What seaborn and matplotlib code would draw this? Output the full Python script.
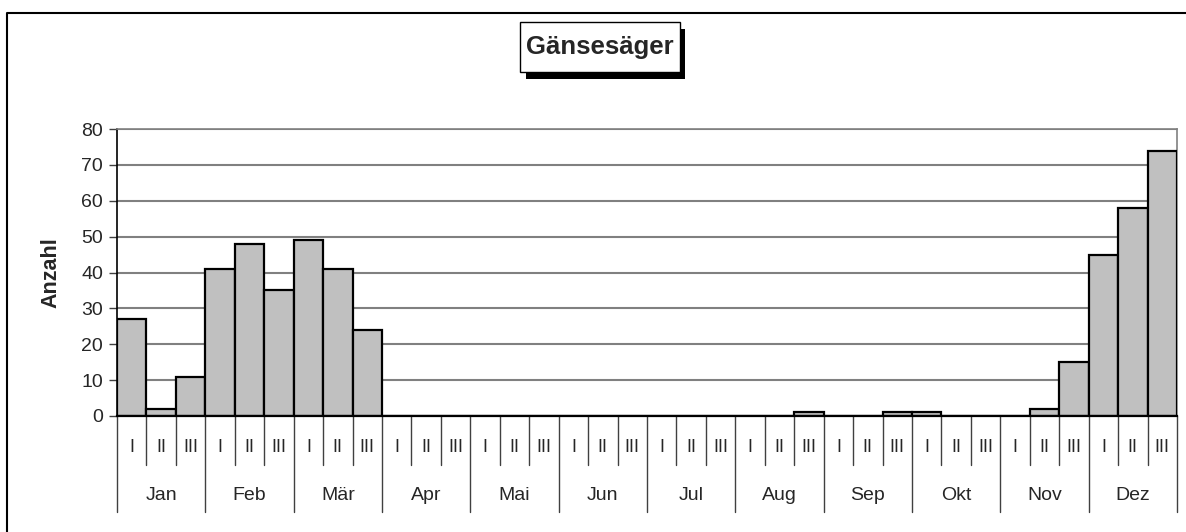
import matplotlib
matplotlib.use("Agg")
import matplotlib.pyplot as plt
import matplotlib.transforms as mtransforms
from matplotlib.patches import Rectangle
from matplotlib.lines import Line2D
import seaborn as sns
import pandas as pd

# data: Gänsesäger counts per decade (I, II, III) of each month
months = ['Jan', 'Feb', 'Mär', 'Apr', 'Mai', 'Jun', 'Jul', 'Aug', 'Sep', 'Okt', 'Nov', 'Dez']
decades = ['I', 'II', 'III']
counts = [27, 2, 11,
          41, 48, 35,
          49, 41, 24,
          0, 0, 0,
          0, 0, 0,
          0, 0, 0,
          0, 0, 0,
          0, 0, 1,
          0, 0, 1,
          1, 0, 0,
          0, 2, 15,
          45, 58, 74]
yticks = [0, 10, 20, 30, 40, 50, 60, 70, 80]

slots = [m + ' ' + d for m in months for d in decades]
df = pd.DataFrame({'slot': slots, 'Anzahl': counts})

sns.set_style("white")
plt.rcParams['font.family'] = ['Liberation Sans', 'DejaVu Sans']

W, H = 1186, 532
fig = plt.figure(figsize=(W / 100, H / 100), dpi=100)
ax = fig.add_axes([117 / W, 1 - 416 / H, (1177 - 117) / W, (416 - 129) / H])

sns.barplot(data=df, x='slot', y='Anzahl', order=slots, color='#c0c0c0', saturation=1,
            edgecolor='black', linewidth=1.6, width=1.0, ax=ax, zorder=3)

ax.set_xlim(-0.5, len(slots) - 0.5)
ax.set_ylim(0, 80)
ax.set_yticks(yticks)
ax.set_xticks([])
ax.set_xlabel('')
ax.set_ylabel('Anzahl', fontsize=15.5, fontweight='bold', labelpad=14)
ax.tick_params(axis='y', labelsize=14, length=6, width=1, color='#404040',
               direction='out', left=True, pad=4)
ax.yaxis.grid(True, color='#808080', linewidth=1.5, zorder=0)
ax.set_axisbelow(True)

for side in ['top', 'right']:
    ax.spines[side].set_color('#808080')
    ax.spines[side].set_linewidth(1.2)
ax.spines['left'].set_color('black')
ax.spines['left'].set_linewidth(1.2)
ax.spines['bottom'].set_color('black')
ax.spines['bottom'].set_linewidth(1.6)
ax.spines['bottom'].set_zorder(5)

# multi-level category axis
trans = mtransforms.blended_transform_factory(ax.transData, ax.transAxes)
ah = 416 - 129
short_end = -(465 - 416) / ah
long_end = -(512 - 416) / ah
for k in range(len(slots) + 1):
    yend = long_end if k % 3 == 0 else short_end
    ax.plot([k - 0.5, k - 0.5], [0, yend], transform=trans, color='#404040',
            lw=1.0, clip_on=False, zorder=4)
for i, s in enumerate(slots):
    ax.text(i, -(447 - 416) / ah, decades[i % 3], transform=trans, ha='center',
            va='center', fontsize=13)
for j, m in enumerate(months):
    ax.text(3 * j + 1, -(496 - 416) / ah, m, transform=trans, ha='center',
            va='center', fontsize=14)

# title box with shadow
fig.add_artist(Rectangle((526 / W, 1 - 79 / H), (159) / W, (50) / H,
                         transform=fig.transFigure, facecolor='black', edgecolor='none'))
fig.add_artist(Rectangle((520 / W, 1 - 72 / H), (160) / W, (50) / H,
                         transform=fig.transFigure, facecolor='white', edgecolor='black', lw=1.0))
fig.text(600 / W, 1 - 47 / H, 'Gänsesäger', ha='center', va='center',
         fontsize=18.5, fontweight='bold')

# outer chart border (only left and top visible)
fig.add_artist(Line2D([7 / W, 7 / W, 1.01], [-0.01, 1 - 12.5 / H, 1 - 12.5 / H],
                      transform=fig.transFigure, color='black', lw=1.5))

fig.savefig('out.png', dpi=100)
